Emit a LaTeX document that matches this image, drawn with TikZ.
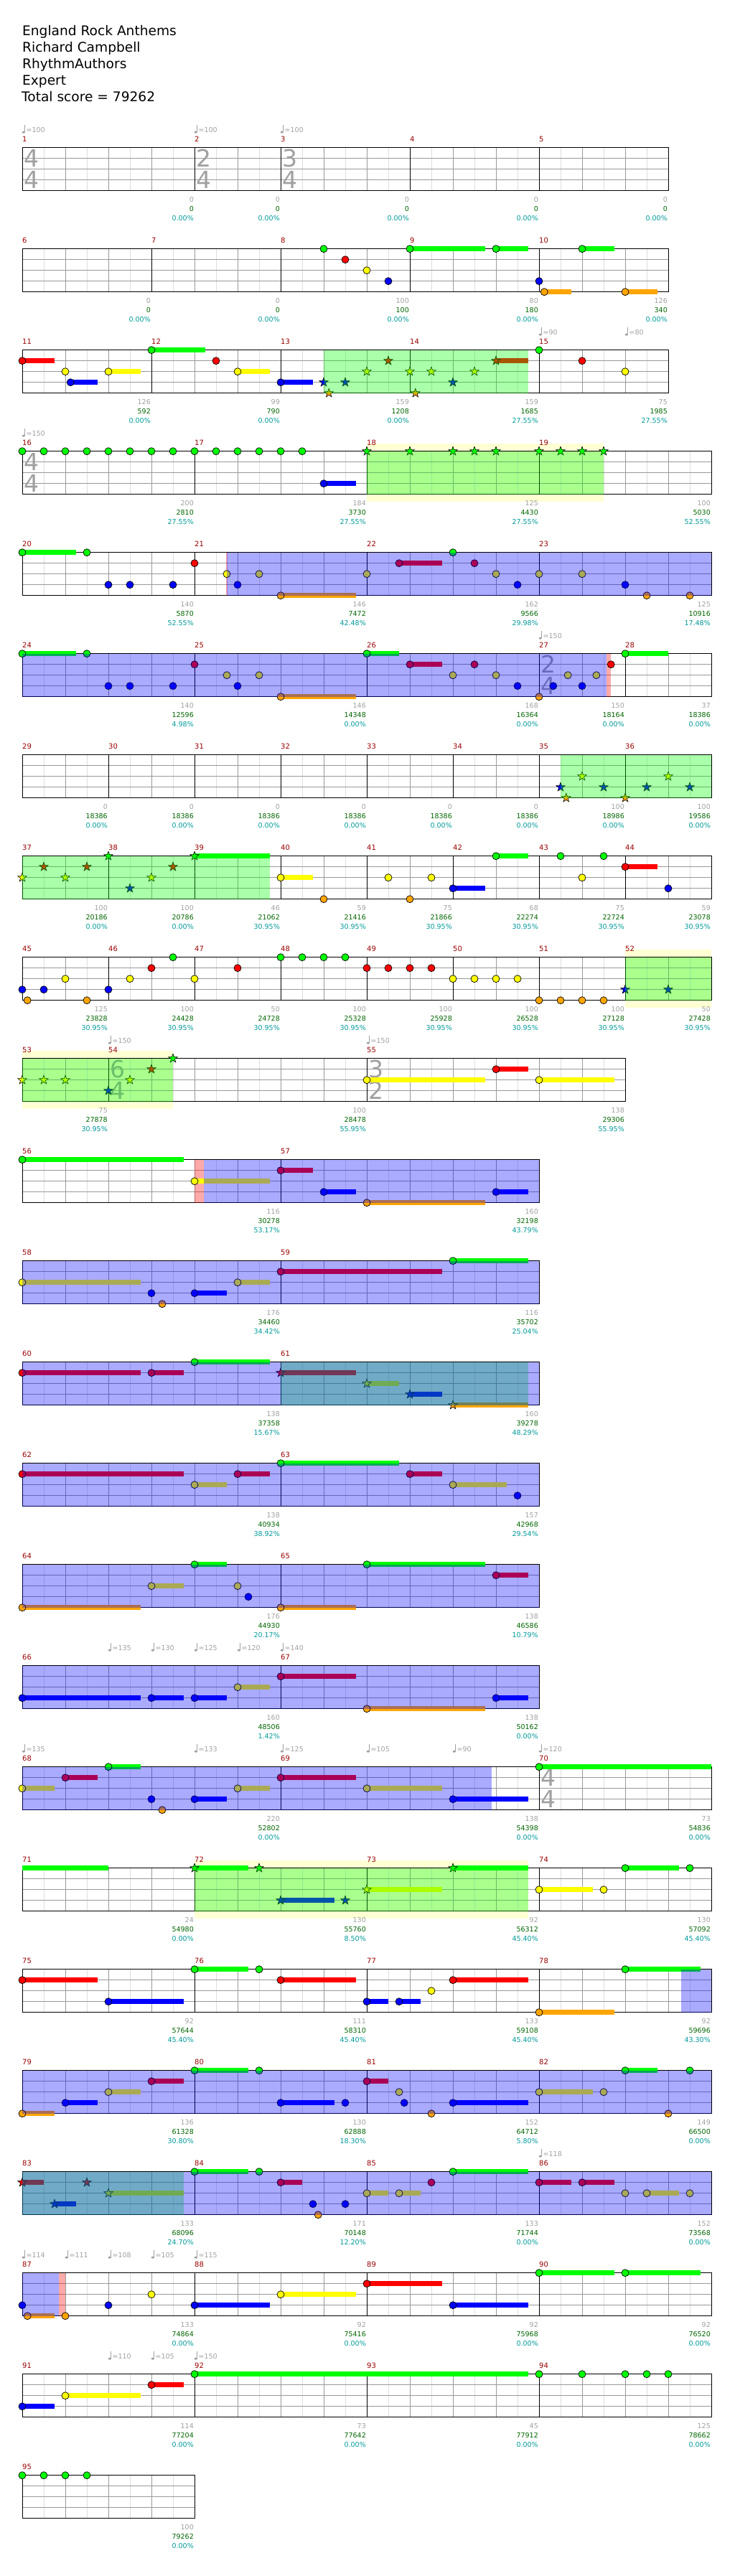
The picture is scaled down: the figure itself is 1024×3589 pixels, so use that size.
\documentclass[tikz,border=0pt]{standalone}
\usepackage{fontspec}
\setmainfont{DejaVu Sans}

% colori delle corsie e del testo
\definecolor{ln0}{RGB}{0,255,0}
\definecolor{ln1}{RGB}{255,0,0}
\definecolor{ln2}{RGB}{255,255,0}
\definecolor{ln3}{RGB}{0,0,255}
\definecolor{ln4}{RGB}{255,165,0}
\definecolor{mred}{RGB}{153,0,0}
\definecolor{sgry}{RGB}{160,160,160}
\definecolor{sgrn}{RGB}{0,100,0}
\definecolor{stel}{RGB}{0,153,153}
\definecolor{lgrid}{RGB}{222,222,222}
\definecolor{bgrid}{RGB}{153,153,153}
\definecolor{odyel}{RGB}{255,255,212}

\tikzset{
  rowat/.style={xshift=31pt, yshift={-(205.7pt+141pt*#1)}, x=60pt, y=-15pt},
  halfln/.style={lgrid, line width=.9pt},
  beatln/.style={bgrid, line width=.9pt},
  edge/.style={black, line width=1pt},
  gemln/.style={draw=black, line width=.7pt},
  mnum/.style={mred, anchor=west, inner sep=0pt, font=\fontsize{10}{12}\selectfont},
  gry/.style={sgry, anchor=east, inner sep=0pt, font=\fontsize{9.5}{11}\selectfont},
  grn/.style={gry, sgrn},
  tel/.style={gry, stel},
  tmp/.style={sgry, anchor=west, inner sep=0pt, font=\fontsize{9.5}{11}\selectfont},
  tsg/.style={sgry, inner sep=0pt, font=\fontsize{33}{36}\selectfont},
  hdr/.style={anchor=base west, inner sep=0pt, font=\fontsize{18.6}{23}\selectfont}
}

% riga del rigo
\newcommand\rowbegin[1]{\begin{scope}[rowat=#1]\def\rid{#1}}
\newcommand\rowend{\end{scope}}
\newcommand\staff[2]{%
  \foreach \ii in {1,...,#1}{\draw[halfln] ({\ii-.5},0) -- ({\ii-.5},4);}
  \foreach \ii in {1,...,#1}{\draw[beatln] (\ii,0) -- (\ii,4);}
  \foreach \lnum in {1,2,3}{\draw[beatln] (0,\lnum) -- (#1,\lnum);}
  \draw[edge] (0,0) rectangle (#1,4);
  \foreach \bt/\mm in {#2}{\draw[edge] (\bt,0) -- (\bt,4);
    \node[mnum] (m\mm) at ([yshift=11.5pt]\bt,0) {\mm};}}
% note, code, stelle
\newcommand\gem[2]{\filldraw[gemln, fill=ln#1] (#2,#1) circle[radius=5pt];}
\newcommand\tail[3]{\fill[ln#1] ([yshift=3.5pt]#2,#1) rectangle ([yshift=-3.5pt]#3,#1);}
\newcommand\sus[3]{\tail{#1}{#2}{#3}\gem{#1}{#2}}
\newcommand\sgem[2]{\filldraw[gemln, line width=.6pt, fill=ln#1, shift={(#2,#1)}]
  (90:6.5pt) -- (126:2.6pt) -- (162:6.5pt) -- (198:2.6pt) -- (234:6.5pt) -- (270:2.6pt)
  -- (306:6.5pt) -- (342:2.6pt) -- (18:6.5pt) -- (54:2.6pt) -- cycle;}
\newcommand\ssus[3]{\tail{#1}{#2}{#3}\sgem{#1}{#2}}
% zone
\newcommand\odz[2]{\fill[odyel] ([yshift=10.5pt]#1,0) rectangle ([yshift=-10.5pt]#2,4);}
\newcommand\spz[2]{\fill[ln0, fill opacity=.333] (#1,0) rectangle (#2,4);}
\newcommand\solozone[2]{\fill[ln3, fill opacity=.333] (#1,0) rectangle (#2,4);}
\newcommand\pinkz[2]{\fill[ln1, fill opacity=.333] (#1,0) rectangle (#2,4);}
% tempo, tempo in chiave, punteggi
\newcommand\tempo[2]{%
  \fill[sgry] ([xshift=1.8pt,yshift=21.5pt]#1,0) ellipse[x radius=2.1pt, y radius=1.5pt];
  \draw[sgry, line width=.7pt] ([xshift=3.6pt,yshift=21.5pt]#1,0) -- ([xshift=3.6pt,yshift=31.5pt]#1,0);
  \node[tmp] (t\rid-#1) at ([xshift=5.5pt,yshift=24.7pt]#1,0) {=#2};}
\newcommand\tsig[3]{\node[tsg] (ts\rid-#1a) at ([xshift=13pt]#1,1) {#2};
  \node[tsg] (ts\rid-#1b) at ([xshift=13pt]#1,3) {#3};}
\newcommand\scores[1]{\foreach \bt/\gv/\sv/\pv in {#1}{%
  \node[gry] (g\rid-\bt) at ([xshift=-1pt,yshift=-12.3pt]\bt,4) {\gv};
  \node[grn] (s\rid-\bt) at ([xshift=-1pt,yshift=-25.3pt]\bt,4) {\sv};
  \node[tel] (p\rid-\bt) at ([xshift=-1pt,yshift=-38.3pt]\bt,4) {\pv\%};}}

\begin{document}
\begin{tikzpicture}[x=1pt, y=-1pt]
\useasboundingbox (0,0) rectangle (1024,3589);

% intestazione
\node[hdr] (title) at (31,49.3) {England Rock Anthems};
\node[hdr] (artist) at (31,72.3) {Richard Campbell};
\node[hdr] (author) at (31,95.3) {RhythmAuthors};
\node[hdr] (level) at (31,118.3) {Expert};
\node[hdr] (total) at (30,141.3) {Total score = 79262};

% misure 1-5
\rowbegin{0}
\staff{15}{0/1,4/2,6/3,9/4,12/5}
\tsig{0}{4}{4}\tsig{4}{2}{4}\tsig{6}{3}{4}
\tempo{0}{100}\tempo{4}{100}\tempo{6}{100}
\scores{4/0/0/0.00,6/0/0/0.00,9/0/0/0.00,12/0/0/0.00,15/0/0/0.00}
\rowend

% misure 6-10
\rowbegin{1}
\staff{15}{0/6,3/7,6/8,9/9,12/10}
\gem{0}{7}\gem{1}{7.5}\gem{2}{8}\gem{3}{8.5}\sus{0}{9}{10.75}\sus{0}{11}{11.75}
\gem{3}{12}\sus{4}{12.12}{12.75}\sus{0}{13}{13.75}\sus{4}{14}{14.75}
\scores{3/0/0/0.00,6/0/0/0.00,9/100/100/0.00,12/80/180/0.00,15/126/340/0.00}
\rowend

% misure 11-15
\rowbegin{2}
\staff{15}{0/11,3/12,6/13,9/14,12/15}
\tempo{12}{90}\tempo{14}{80}
\sus{1}{0}{.75}\gem{2}{1}\sus{3}{1.12}{1.75}\sus{2}{2}{2.75}\sus{0}{3}{4.25}\gem{1}{4.5}
\sus{2}{5}{5.75}\sus{3}{6}{6.75}
\sgem{3}{7}\sgem{4}{7.12}\sgem{3}{7.5}\sgem{2}{8}\sgem{1}{8.5}\sgem{2}{9}\sgem{4}{9.13}
\sgem{2}{9.5}\sgem{3}{10}\sgem{2}{10.5}\ssus{1}{11}{11.75}
\gem{0}{12}\gem{1}{13}\gem{2}{14}
\spz{7}{11.75}
\scores{3/126/592/0.00,6/99/790/0.00,9/159/1208/0.00,12/159/1685/27.55,15/75/1985/27.55}
\rowend

% misure 16-19
\rowbegin{3}
\odz{8}{13.5}
\staff{16}{0/16,4/17,8/18,12/19}
\tsig{0}{4}{4}\tempo{0}{150}
\foreach \bt in {0,0.5,...,6.5}{\gem{0}{\bt}}
\sus{3}{7}{7.75}
\foreach \bt in {8,9,10,10.5,11,12,12.5,13,13.5}{\sgem{0}{\bt}}
\spz{8}{13.5}
\scores{4/200/2810/27.55,8/184/3730/27.55,12/125/4430/27.55,16/100/5030/52.55}
\rowend

% misure 20-23
\rowbegin{4}
\staff{16}{0/20,4/21,8/22,12/23}
\pinkz{4.73}{4.76}
\sus{0}{0}{1.25}\gem{0}{1.5}\gem{3}{2}\gem{3}{2.5}\gem{3}{3.5}\gem{1}{4}\gem{2}{4.75}\gem{3}{5}
\gem{2}{5.5}\sus{4}{6}{7.75}\gem{2}{8}\sus{1}{8.75}{9.75}\gem{0}{10}\gem{1}{10.5}\gem{2}{11}
\gem{3}{11.5}\gem{2}{12}\gem{2}{13}\gem{3}{14}\gem{4}{14.5}\gem{4}{15.5}
\solozone{4.75}{16}
\scores{4/140/5870/52.55,8/146/7472/42.48,12/162/9566/29.98,16/125/10916/17.48}
\rowend

% misure 24-28
\rowbegin{5}
\staff{16}{0/24,4/25,8/26,12/27,14/28}
\tsig{12}{2}{4}\tempo{12}{150}
\pinkz{13.57}{13.66}
\sus{0}{0}{1.25}\gem{0}{1.5}\gem{3}{2}\gem{3}{2.5}\gem{3}{3.5}\gem{1}{4}\gem{2}{4.75}\gem{3}{5}
\gem{2}{5.5}\sus{4}{6}{7.75}\sus{0}{8}{8.75}\sus{1}{9}{9.75}\gem{2}{10}\gem{1}{10.5}\gem{2}{11}
\gem{3}{11.5}\gem{4}{12}\gem{3}{12.33}\gem{2}{12.67}\gem{3}{13}\gem{2}{13.33}\gem{1}{13.67}
\sus{0}{14}{15}
\solozone{0}{13.57}
\scores{4/140/12596/4.98,8/146/14348/0.00,12/168/16364/0.00,14/150/18164/0.00,16/37/18386/0.00}
\rowend

% misure 29-36
\rowbegin{6}
\staff{16}{0/29,2/30,4/31,6/32,8/33,10/34,12/35,14/36}
\sgem{3}{12.5}\sgem{4}{12.63}\sgem{2}{13}\sgem{3}{13.5}\sgem{4}{14}\sgem{3}{14.5}\sgem{2}{15}\sgem{3}{15.5}
\spz{12.5}{16}
\scores{2/0/18386/0.00,4/0/18386/0.00,6/0/18386/0.00,8/0/18386/0.00,10/0/18386/0.00,12/0/18386/0.00,14/100/18986/0.00,16/100/19586/0.00}
\rowend

% misure 37-44
\rowbegin{7}
\staff{16}{0/37,2/38,4/39,6/40,8/41,10/42,12/43,14/44}
\sgem{2}{0}\sgem{1}{.5}\sgem{2}{1}\sgem{1}{1.5}\sgem{0}{2}\sgem{3}{2.5}\sgem{2}{3}\sgem{1}{3.5}\ssus{0}{4}{5.75}
\sus{2}{6}{6.75}\gem{4}{7}\gem{2}{8.5}\gem{4}{9}\gem{2}{9.5}\sus{3}{10}{10.75}\sus{0}{11}{11.75}
\gem{0}{12.5}\gem{2}{13}\gem{0}{13.5}\sus{1}{14}{14.75}\gem{3}{15}
\spz{0}{5.75}
\scores{2/100/20186/0.00,4/100/20786/0.00,6/46/21062/30.95,8/59/21416/30.95,10/75/21866/30.95,12/68/22274/30.95,14/75/22724/30.95,16/59/23078/30.95}
\rowend

% misure 45-52
\rowbegin{8}
\odz{14}{16}
\staff{16}{0/45,2/46,4/47,6/48,8/49,10/50,12/51,14/52}
\gem{3}{0}\gem{4}{.12}\gem{3}{.5}\gem{2}{1}\gem{4}{1.5}\gem{3}{2}\gem{2}{2.5}\gem{1}{3}\gem{0}{3.5}
\gem{2}{4}\gem{1}{5}
\foreach \bt in {6,6.5,7,7.5}{\gem{0}{\bt}}
\foreach \bt in {8,8.5,9,9.5}{\gem{1}{\bt}}
\foreach \bt in {10,10.5,11,11.5}{\gem{2}{\bt}}
\foreach \bt in {12,12.5,13,13.5}{\gem{4}{\bt}}
\sgem{3}{14}\sgem{3}{15}
\spz{14}{16}
\scores{2/125/23828/30.95,4/100/24428/30.95,6/50/24728/30.95,8/100/25328/30.95,10/100/25928/30.95,12/100/26528/30.95,14/100/27128/30.95,16/50/27428/30.95}
\rowend

% misure 53-55
\rowbegin{9}
\odz{0}{3.5}
\staff{14}{0/53,2/54,8/55}
\tsig{2}{6}{4}\tsig{8}{3}{2}\tempo{2}{150}\tempo{8}{150}
\sgem{2}{0}\sgem{2}{.5}\sgem{2}{1}\sgem{3}{2}\sgem{2}{2.5}\sgem{1}{3}\sgem{0}{3.5}
\sus{2}{8}{10.75}\sus{1}{11}{11.75}\sus{2}{12}{13.75}
\spz{0}{3.5}
\scores{2/75/27878/30.95,8/100/28478/55.95,14/138/29306/55.95}
\rowend

% misure 56-57
\rowbegin{10}
\staff{12}{0/56,6/57}
\pinkz{4}{4.22}
\sus{0}{0}{3.75}\sus{2}{4}{5.75}\sus{1}{6}{6.75}\sus{3}{7}{7.75}\sus{4}{8}{10.75}\sus{3}{11}{11.75}
\solozone{4.22}{12}
\scores{6/116/30278/53.17,12/160/32198/43.79}
\rowend

% misure 58-59
\rowbegin{11}
\staff{12}{0/58,6/59}
\sus{2}{0}{2.75}\gem{3}{3}\gem{4}{3.25}\sus{3}{4}{4.75}\sus{2}{5}{5.75}\sus{1}{6}{9.75}\sus{0}{10}{11.75}
\solozone{0}{12}
\scores{6/176/34460/34.42,12/116/35702/25.04}
\rowend

% misure 60-61
\rowbegin{12}
\staff{12}{0/60,6/61}
\sus{1}{0}{2.75}\sus{1}{3}{3.75}\sus{0}{4}{5.75}
\ssus{1}{6}{7.75}\ssus{2}{8}{8.75}\ssus{3}{9}{9.75}\ssus{4}{10}{11.75}
\spz{6}{11.75}\solozone{0}{12}
\scores{6/138/37358/15.67,12/160/39278/48.29}
\rowend

% misure 62-63
\rowbegin{13}
\staff{12}{0/62,6/63}
\sus{1}{0}{3.75}\sus{2}{4}{4.75}\sus{1}{5}{5.75}\sus{0}{6}{8.75}\sus{1}{9}{9.75}\sus{2}{10}{11.25}\gem{3}{11.5}
\solozone{0}{12}
\scores{6/138/40934/38.92,12/157/42968/29.54}
\rowend

% misure 64-65
\rowbegin{14}
\staff{12}{0/64,6/65}
\sus{4}{0}{2.75}\sus{2}{3}{3.75}\sus{0}{4}{4.75}\gem{2}{5}\gem{3}{5.25}\sus{4}{6}{7.75}\sus{0}{8}{10.75}\sus{1}{11}{11.75}
\solozone{0}{12}
\scores{6/176/44930/20.17,12/138/46586/10.79}
\rowend

% misure 66-67
\rowbegin{15}
\staff{12}{0/66,6/67}
\tempo{2}{135}\tempo{3}{130}\tempo{4}{125}\tempo{5}{120}\tempo{6}{140}
\sus{3}{0}{2.75}\sus{3}{3}{3.75}\sus{3}{4}{4.75}\sus{2}{5}{5.75}\sus{1}{6}{7.75}\sus{4}{8}{10.75}\sus{3}{11}{11.75}
\solozone{0}{12}
\scores{6/160/48506/1.42,12/138/50162/0.00}
\rowend

% misure 68-70
\rowbegin{16}
\staff{16}{0/68,6/69,12/70}
\tsig{12}{4}{4}
\tempo{0}{135}\tempo{4}{133}\tempo{6}{125}\tempo{8}{105}\tempo{10}{90}\tempo{12}{120}
\sus{2}{0}{.75}\sus{1}{1}{1.75}\sus{0}{2}{2.75}\gem{3}{3}\gem{4}{3.25}\sus{3}{4}{4.75}\sus{2}{5}{5.75}
\sus{1}{6}{7.75}\sus{2}{8}{9.75}\sus{3}{10}{11.75}\sus{0}{12}{16}
\solozone{0}{10.9}
\scores{6/220/52802/0.00,12/138/54398/0.00,16/73/54836/0.00}
\rowend

% misure 71-74
\rowbegin{17}
\odz{4}{11.75}
\staff{16}{0/71,4/72,8/73,12/74}
\tail{0}{0}{2}
\ssus{0}{4}{5.25}\sgem{0}{5.5}\ssus{3}{6}{7.25}\sgem{3}{7.5}\ssus{2}{8}{9.75}\ssus{0}{10}{11.75}
\sus{2}{12}{13.25}\gem{2}{13.5}\sus{0}{14}{15.25}\gem{0}{15.5}
\spz{4}{11.75}
\scores{4/24/54980/0.00,8/130/55760/8.50,12/92/56312/45.40,16/130/57092/45.40}
\rowend

% misure 75-78
\rowbegin{18}
\staff{16}{0/75,4/76,8/77,12/78}
\sus{1}{0}{1.75}\sus{3}{2}{3.75}\sus{0}{4}{5.25}\gem{0}{5.5}\sus{1}{6}{7.75}\sus{3}{8}{8.5}\sus{3}{8.75}{9.25}
\gem{2}{9.5}\sus{1}{10}{11.75}\sus{4}{12}{13.75}\sus{0}{14}{15.75}
\solozone{15.3}{16}
\scores{4/92/57644/45.40,8/111/58310/45.40,12/133/59108/45.40,16/92/59696/43.30}
\rowend

% misure 79-82
\rowbegin{19}
\staff{16}{0/79,4/80,8/81,12/82}
\sus{4}{0}{.75}\sus{3}{1}{1.75}\sus{2}{2}{2.75}\sus{1}{3}{3.75}\sus{0}{4}{5.25}\gem{0}{5.5}\sus{3}{6}{7.25}
\gem{3}{7.5}\sus{1}{8}{8.5}\gem{2}{8.75}\gem{3}{8.87}\gem{4}{9.5}\sus{3}{10}{11.75}\sus{2}{12}{13.25}
\gem{2}{13.5}\sus{0}{14}{14.75}\gem{4}{15}\gem{0}{15.5}
\solozone{0}{16}
\scores{4/136/61328/30.80,8/130/62888/18.30,12/152/64712/5.80,16/149/66500/0.00}
\rowend

% misure 83-86
\rowbegin{20}
\staff{16}{0/83,4/84,8/85,12/86}
\tempo{12}{118}
\ssus{1}{0}{.5}\ssus{3}{.75}{1.25}\sgem{1}{1.5}\ssus{2}{2}{3.75}
\sus{0}{4}{5.25}\gem{0}{5.5}\sus{1}{6}{6.5}\gem{3}{6.75}\gem{4}{6.87}\gem{3}{7.5}\sus{2}{8}{8.5}
\sus{2}{8.75}{9.25}\gem{1}{9.5}\sus{0}{10}{11.75}\sus{1}{12}{12.75}\sus{1}{13}{13.75}\gem{2}{14}
\sus{2}{14.5}{15.25}\gem{2}{15.5}
\spz{0}{3.75}\solozone{0}{16}
\scores{4/133/68096/24.70,8/171/70148/12.20,12/133/71744/0.00,16/152/73568/0.00}
\rowend

% misure 87-90
\rowbegin{21}
\staff{16}{0/87,4/88,8/89,12/90}
\tempo{0}{114}\tempo{1}{111}\tempo{2}{108}\tempo{3}{105}\tempo{4}{115}
\pinkz{.85}{1}
\gem{3}{0}\sus{4}{.12}{.75}\gem{4}{1}\gem{3}{2}\gem{2}{3}\sus{3}{4}{5.75}\sus{2}{6}{7.75}\sus{1}{8}{9.75}
\sus{3}{10}{11.75}\sus{0}{12}{13.75}\sus{0}{14}{15.75}
\solozone{0}{.85}
\scores{4/133/74864/0.00,8/92/75416/0.00,12/92/75968/0.00,16/92/76520/0.00}
\rowend

% misure 91-94
\rowbegin{22}
\staff{16}{0/91,4/92,8/93,12/94}
\tempo{2}{110}\tempo{3}{105}\tempo{4}{150}
\sus{3}{0}{.75}\sus{2}{1}{2.75}\sus{1}{3}{3.75}\sus{0}{4}{11.75}
\gem{0}{12}\gem{0}{13}\gem{0}{14}\gem{0}{14.5}\gem{0}{15}
\scores{4/114/77204/0.00,8/73/77642/0.00,12/45/77912/0.00,16/125/78662/0.00}
\rowend

% misura 95
\rowbegin{23}
\staff{4}{0/95}
\gem{0}{0}\gem{0}{.5}\gem{0}{1}\gem{0}{1.5}
\scores{4/100/79262/0.00}
\rowend
\end{tikzpicture}
\end{document}
